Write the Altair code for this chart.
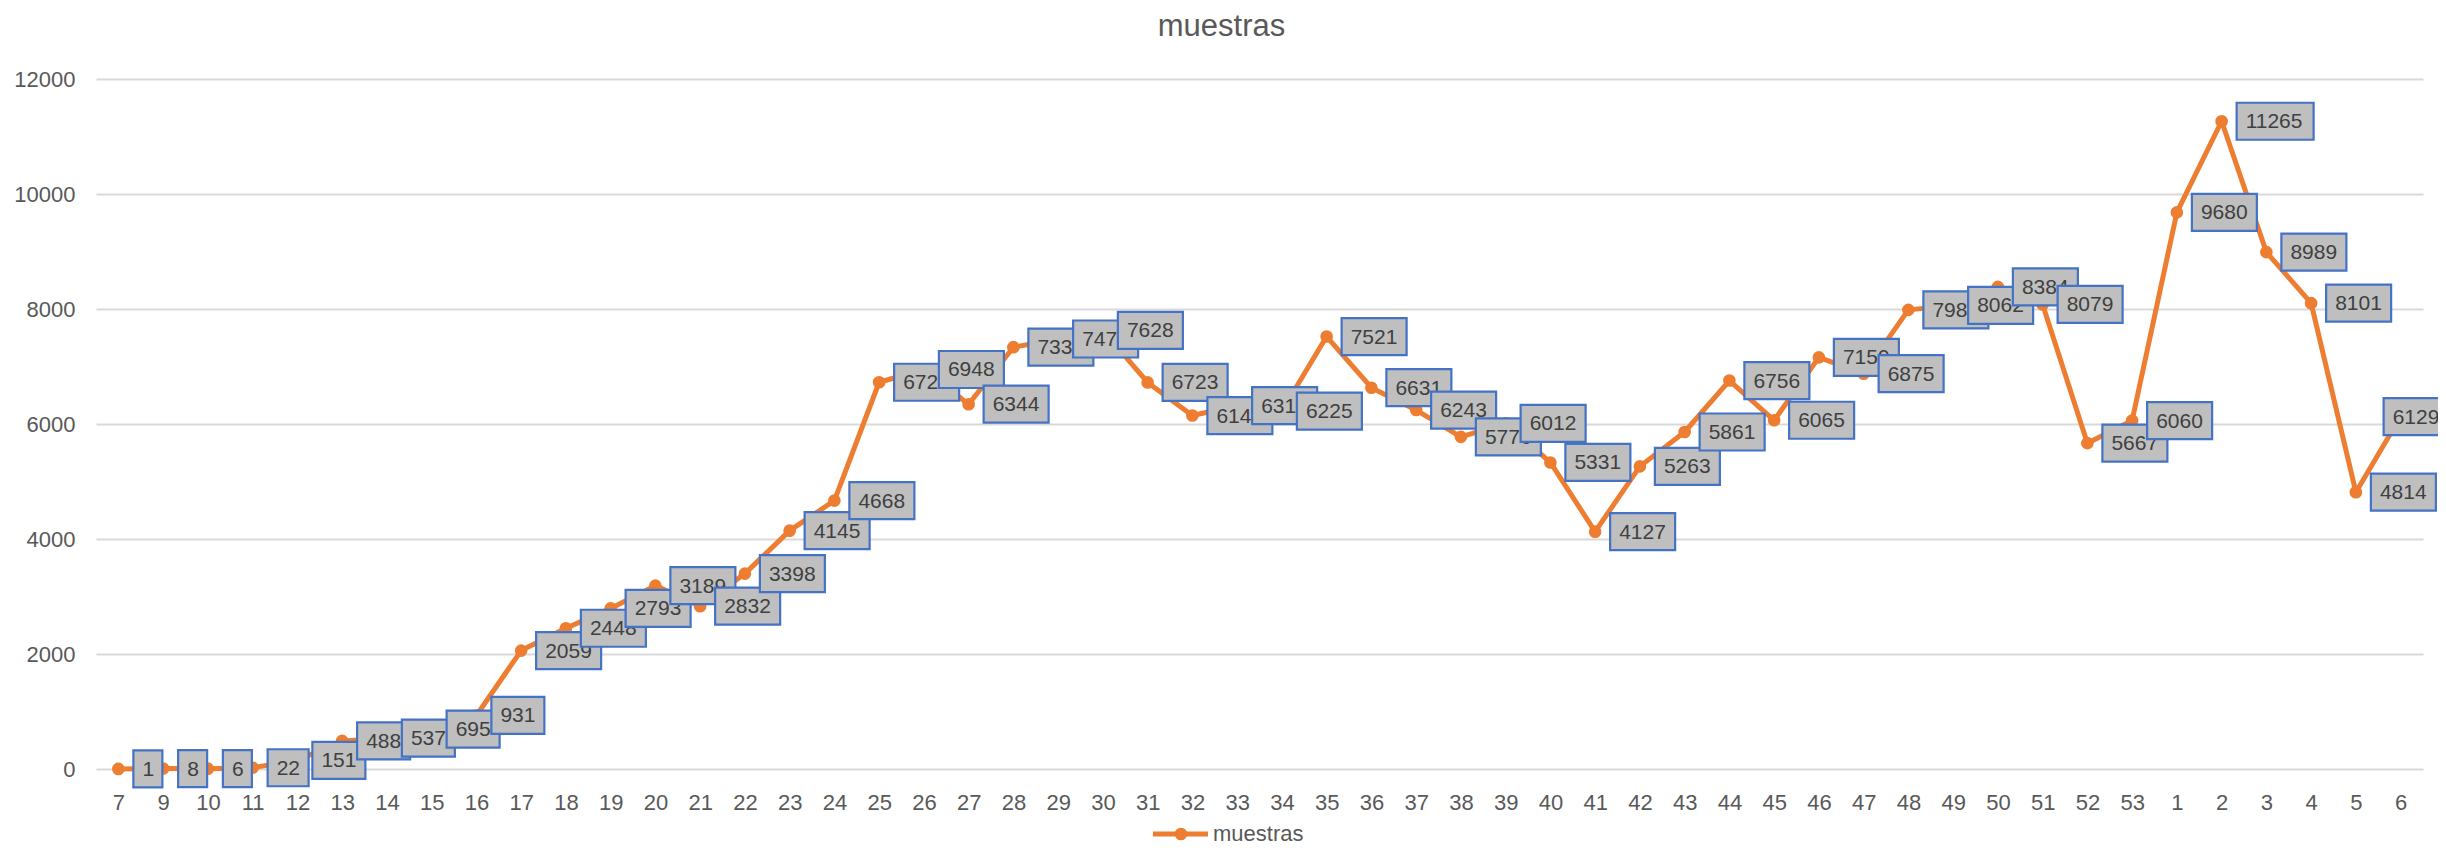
import altair as alt
import pandas as pd

# ---- data ----
semanas = ["7", "9", "10", "11", "12", "13", "14", "15", "16", "17", "18", "19", "20",
           "21", "22", "23", "24", "25", "26", "27", "28", "29", "30", "31", "32", "33",
           "34", "35", "36", "37", "38", "39", "40", "41", "42", "43", "44", "45", "46",
           "47", "48", "49", "50", "51", "52", "53", "1", "2", "3", "4", "5", "6"]
muestras = [1, 8, 6, 22, 151, 488, 537, 695, 931, 2059, 2448, 2793, 3189,
            2832, 3398, 4145, 4668, 6726, 6948, 6344, 7336, 7478, 7628, 6723, 6147, 6318,
            6225, 7521, 6631, 6243, 5776, 6012, 5331, 4127, 5263, 5861, 6756, 6065, 7159,
            6875, 7985, 8062, 8384, 8079, 5667, 6060, 9680, 11265, 8989, 8101, 4814, 6129]
y_ticks = [0, 2000, 4000, 6000, 8000, 10000, 12000]
serie = "muestras"

df = pd.DataFrame({"semana": semanas, "muestras": muestras})
df["idx"] = range(len(df))
df["label"] = df["muestras"].astype(str)

FONT = "Liberation Sans"
ORANGE = "#ED7D31"
W, H = 2327, 690

base = alt.Chart(df).encode(
    x=alt.X("semana:N", sort=semanas,
            scale=alt.Scale(type="point", padding=0.5),
            axis=alt.Axis(title=None, labelAngle=0, labelFont=FONT, labelFontSize=22,
                          labelColor="#595959", labelPadding=23, ticks=False, tickSize=0,
                          domain=False, grid=False)),
    y=alt.Y("muestras:Q",
            scale=alt.Scale(domain=[0, 12000], nice=False),
            axis=alt.Axis(title=None, values=y_ticks, format="d", labelFont=FONT,
                          labelFontSize=22, labelColor="#595959", labelPadding=21,
                          ticks=False, tickSize=0, domain=False, grid=True,
                          gridColor="#D9D9D9", gridWidth=1.8)),
)

line = base.mark_line(color=ORANGE, strokeWidth=5, strokeJoin="round", strokeCap="round")
dots = base.mark_circle(color=ORANGE, size=160, opacity=1)

layers = [line, dots]
n = len(df)
for i in range(n):
    txt = str(muestras[i])
    w = 12 * len(txt) + 17
    left = 15 if i < n - 1 else -17
    path = f"M{left},-18.5H{left + w}V18.5H{left}Z"
    sub = base.transform_filter(alt.datum.idx == i)
    box = sub.mark_point(shape=path, size=4, filled=True, fill="#BFBFBF",
                         stroke="#4472C4", strokeWidth=2.2, opacity=1, fillOpacity=1)
    lab = sub.mark_text(align="left", baseline="middle", dx=left + 9, dy=1,
                        font=FONT, fontSize=21, color="#404040").encode(text="label:N")
    layers += [box, lab]

# legend drawn at the bottom centre
leg_df = pd.DataFrame({"serie": [serie]})
leg_y = 755
leg_line = alt.Chart(leg_df).mark_rule(color=ORANGE, strokeWidth=5).encode(
    x=alt.value(1057), x2=alt.value(1112), y=alt.value(leg_y))
leg_dot = alt.Chart(leg_df).mark_circle(color=ORANGE, size=160, opacity=1).encode(
    x=alt.value(1085), y=alt.value(leg_y))
leg_txt = alt.Chart(leg_df).mark_text(align="left", baseline="middle", font=FONT,
                                      fontSize=22, color="#595959").encode(
    x=alt.value(1117), y=alt.value(leg_y), text="serie:N")
layers += [leg_line, leg_dot, leg_txt]

chart = alt.layer(*layers).properties(
    width=W, height=H,
    title=alt.TitleParams(serie, font=FONT, fontSize=31, fontWeight="normal",
                          color="#595959", anchor="middle", dx=-38, offset=25),
    autosize=alt.AutoSizeParams(type="none"),
    padding={"left": 88, "top": 71, "right": 15, "bottom": 81},
).configure_view(stroke=None)

chart.save("out.html", embed_options={"renderer": "svg", "actions": False})
